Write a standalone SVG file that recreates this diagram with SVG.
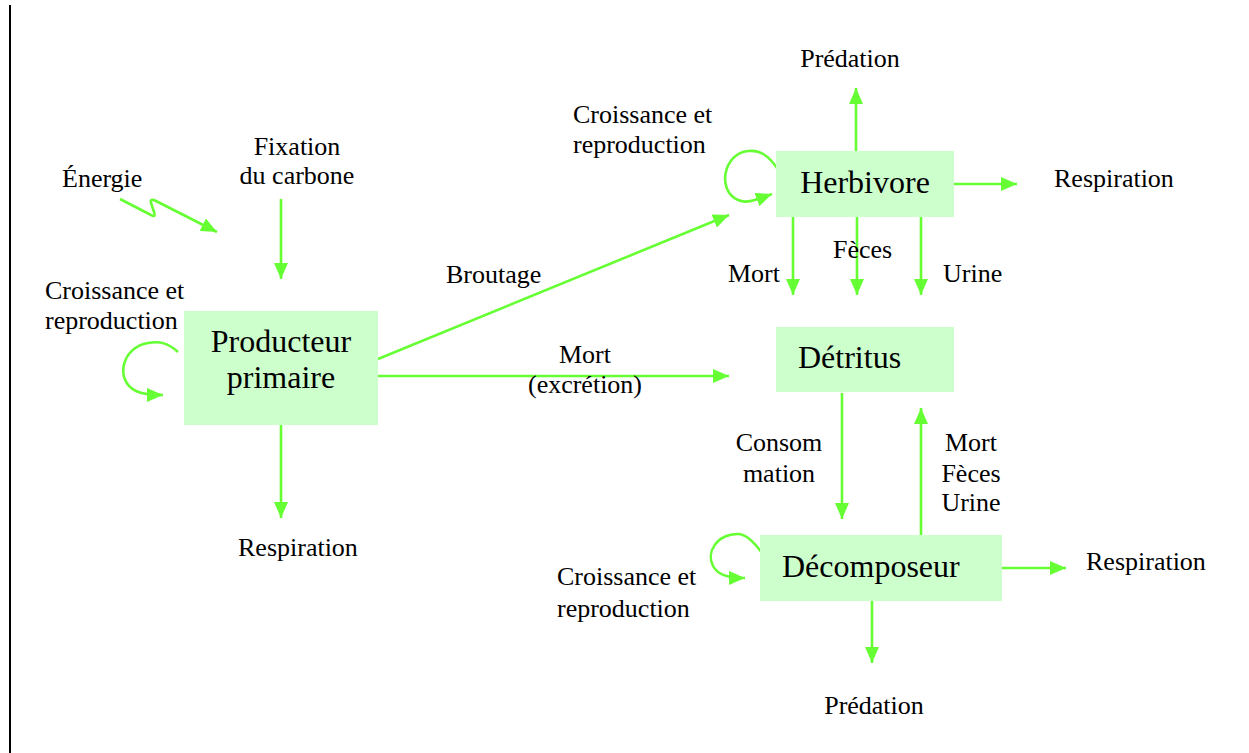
<svg xmlns="http://www.w3.org/2000/svg" width="1249" height="753" viewBox="0 0 1249 753">
<defs>
<style>
.box{fill:#CCFFCC;stroke:none}
.bt{font-family:"Liberation Serif","Times New Roman",serif;font-size:32px;fill:#000}
.lb{font-family:"Liberation Serif","Times New Roman",serif;font-size:26px;fill:#000}
.c{text-anchor:middle}
.ar{fill:none;stroke:#66FF33;stroke-width:2.6;marker-end:url(#ah)}
</style>
<marker id="ah" viewBox="0 0 16 14" refX="16" refY="7" markerWidth="16" markerHeight="14" markerUnits="userSpaceOnUse" orient="auto">
<path d="M0,0 L16,7 L0,14 z" fill="#66FF33"/>
</marker>
</defs>
<rect width="1249" height="753" fill="#fff"/>
<line x1="10" y1="5" x2="10" y2="753" stroke="#000" stroke-width="2"/>

<g id="connectors">
<path class="ar" d="M120,199 L151,215 Q156,218 154,212 L151,203 Q150,198 156,201 L217,232"/>
<path class="ar" d="M281,199 L281,279"/>
<path class="ar" d="M178,352 C168,343 160,341 148,343 C122,347 114,380 136,391 C142,394 150,395 163,395"/>
<path class="ar" d="M281,425 L281,518"/>
<path class="ar" d="M378,359 L729,215"/>
<path class="ar" d="M378,376 L729,376"/>
<path class="ar" d="M777,168 C768,155 760,150 748,151 C724,153 716,190 738,200 C746,204 756,200 772,194"/>
<path class="ar" d="M856,151 L856,88"/>
<path class="ar" d="M954,184 L1017,184"/>
<path class="ar" d="M793,217 L793,295"/>
<path class="ar" d="M857,217 L857,295"/>
<path class="ar" d="M921,217 L921,295"/>
<path class="ar" d="M842,393 L842,519"/>
<path class="ar" d="M921,535 L921,408"/>
<path class="ar" d="M762,553 C754,542 746,534 738,534 C716,534 706,553 713,566 C718,575 728,578 745,578"/>
<path class="ar" d="M1002,568 L1066,568"/>
<path class="ar" d="M872,601 L872,663"/>
</g>

<g id="labels">
<text class="lb" x="62" y="187">Énergie</text>
<text class="lb c" x="297" y="155">Fixation</text>
<text class="lb c" x="297" y="184">du carbone</text>
<text class="lb" x="45" y="299">Croissance et</text>
<text class="lb" x="45" y="329">reproduction</text>
<text class="lb" x="238" y="556">Respiration</text>
<text class="lb" x="446" y="283">Broutage</text>
<text class="lb c" x="585" y="363">Mort</text>
<text class="lb c" x="585" y="393">(excrétion)</text>
<text class="lb" x="573" y="123">Croissance et</text>
<text class="lb" x="573" y="153">reproduction</text>
<text class="lb c" x="850" y="67">Prédation</text>
<text class="lb" x="1054" y="187">Respiration</text>
<text class="lb" x="728" y="282">Mort</text>
<text class="lb" x="833" y="258">Fèces</text>
<text class="lb" x="943" y="282">Urine</text>
<text class="lb c" x="779" y="451">Consom</text>
<text class="lb c" x="779" y="482">mation</text>
<text class="lb c" x="971" y="451">Mort</text>
<text class="lb c" x="971" y="482">Fèces</text>
<text class="lb c" x="971" y="511">Urine</text>
<text class="lb" x="557" y="585">Croissance et</text>
<text class="lb" x="557" y="617">reproduction</text>
<text class="lb" x="1086" y="570">Respiration</text>
<text class="lb c" x="874" y="714">Prédation</text>
</g>

<g id="producteur">
<rect class="box" x="184" y="311" width="194" height="114"/>
<text class="bt c" x="281" y="352">Producteur</text>
<text class="bt c" x="281" y="388">primaire</text>
</g>
<g id="herbivore">
<rect class="box" x="776" y="151" width="178" height="66"/>
<text class="bt c" x="865" y="193">Herbivore</text>
</g>
<g id="detritus">
<rect class="box" x="776" y="327" width="178" height="65"/>
<text class="bt" x="798" y="368">Détritus</text>
</g>
<g id="decomposeur">
<rect class="box" x="760" y="535" width="242" height="66"/>
<text class="bt" x="782" y="577">Décomposeur</text>
</g>
</svg>
